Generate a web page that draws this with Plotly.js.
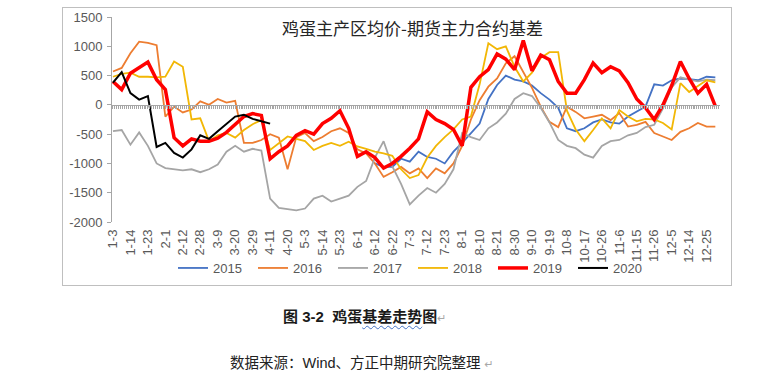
<!DOCTYPE html>
<html>
<head>
<meta charset="utf-8">
<script src="https://cdn.plot.ly/plotly-3.0.1.min.js"></script>
<style>
  html, body { margin: 0; padding: 0; background: #ffffff; }
  #wrap { position: relative; width: 781px; height: 381px; overflow: hidden; }
  #chart { position: absolute; left: 0; top: 0; width: 781px; height: 381px; }
  #frame { position: absolute; left: 62px; top: 7px; width: 668px; height: 277px; border: 1px solid #BFBFBF; pointer-events: none; }
  .cap1 { position: absolute; left: 283px; top: 307px; font: bold 15px "Liberation Sans", "Noto Sans CJK SC", sans-serif; color: #1a1a1a; line-height: 20px; white-space: nowrap; }
  .cap2 { position: absolute; left: 230px; top: 353px; font: 14.5px "Liberation Sans", "Noto Sans CJK SC", sans-serif; color: #222; line-height: 20px; white-space: nowrap; }
  .wavy { text-decoration: underline wavy #4472C4; text-decoration-thickness: 1px; text-underline-offset: 3px; }
  .ret { font: 11px "DejaVu Sans", sans-serif; color: #A8A8A8; font-weight: normal; }
</style>
</head>
<body>
<div id="wrap">
  <div id="chart"></div>
  <div id="frame"></div>
  <div class="cap1">图 3-2&nbsp;&nbsp;鸡蛋<span class="wavy">基差走势</span>图<span class="ret">↵</span></div>
  <div class="cap2">数据来源：Wind、方正中期研究院整理 <span class="ret">↵</span></div>
</div>
<script>
// category tick labels (every 9th trading day)
const tickLabels = ['1-3','1-14','1-23','2-1','2-12','2-28','3-9','3-20','3-29','4-11','4-20','5-3','5-14','5-23','6-1','6-12','6-22','7-3','7-12','7-23','8-1','8-10','8-21','8-30','9-10','9-19','10-8','10-17','10-26','11-6','11-15','11-26','12-5','12-14','12-25'];
const yTickVals = [-2000,-1500,-1000,-500,0,500,1000,1500];
const yTickText = ['-2000','-1500','-1000','-500','0','500','1000','1500'];

// series sampled every 4.5 trading days
const s2015 = [null,null,null,null,null,null,null,null,null,null,
  null,null,null,null,null,null,null,null,null,null,
  null,null,null,null,null,null,null,null,null,null,
  -1000,-1060,-1060,-920,-970,-800,-890,-920,-1000,-800,
  -650,-480,-320,100,340,500,430,400,330,200,
  90,-50,-400,-450,-400,-300,-250,-300,-320,-200,
  -110,-30,350,330,420,450,440,420,480,470];
const s2016 = [570,630,880,1080,1060,1020,-200,-30,-130,-80,
  60,0,100,40,70,-650,-650,-600,-500,-560,
  -1100,-550,-480,-620,-550,-450,-400,-480,-760,-830,
  -1000,-1230,-1150,-1060,-1170,-1085,-1250,-1085,-1170,-1000,
  -700,-250,80,310,450,710,830,570,290,-30,
  -290,-380,-30,-120,-230,-200,-170,-260,-140,-370,
  -340,-290,-480,-540,-600,-460,-400,-310,-370,-370];
const s2017 = [-450,-430,-680,-470,-700,-1000,-1080,-1100,-1120,-1100,
  -1150,-1100,-1020,-800,-700,-800,-750,-780,-1600,-1760,
  -1780,-1800,-1770,-1600,-1550,-1650,-1600,-1550,-1400,-1300,
  -900,-620,-1050,-1350,-1700,-1550,-1420,-1500,-1350,-1100,
  -480,-550,-600,-400,-300,-150,100,200,150,-50,
  -300,-600,-700,-740,-850,-900,-700,-620,-600,-520,
  -480,-380,-340,-60,300,470,430,400,430,420];
const s2018 = [480,530,550,480,480,470,480,740,650,-250,
  -230,-620,-520,-480,-560,-430,-330,-260,-770,-650,
  -540,-580,-620,-770,-700,-650,-700,-630,-710,-750,
  -800,-830,-870,-1100,-1250,-1200,-900,-700,-550,-420,
  -250,-200,350,1050,950,1000,650,400,550,800,
  900,900,-100,-420,-620,-430,-230,-400,-90,-200,
  -280,-240,-250,-310,-420,370,220,320,420,385];
const s2019 = [400,260,540,630,730,430,260,-560,-700,-580,
  -620,-620,-570,-470,-330,-200,-150,-180,-920,-800,
  -700,-520,-440,-500,-320,-230,-100,-400,-880,-800,
  -900,-1080,-1000,-880,-740,-580,-120,-250,-320,-420,
  -700,300,480,600,870,780,600,1100,580,850,
  770,400,200,200,430,714,550,650,580,380,
  100,-50,-250,0,330,740,450,200,350,-20];
const s2020 = [380,560,200,90,150,-720,-650,-820,-900,-760,
  -520,-580,-450,-320,-200,-170,-240,-280,-320];

const step = 4.5;
const xs = arr => arr.map((_, i) => i * step);

const series = [
  {name:'2015', y:s2015, color:'#4472C4', w:1.8},
  {name:'2016', y:s2016, color:'#ED7D31', w:1.8},
  {name:'2017', y:s2017, color:'#A5A5A5', w:1.8},
  {name:'2018', y:s2018, color:'#F2B705', w:1.8},
  {name:'2019', y:s2019, color:'#FF0000', w:3.5},
  {name:'2020', y:s2020, color:'#000000', w:2}
];

const traces = series.map(s => ({
  type:'scatter', mode:'lines', name:s.name,
  x: xs(s.y), y: s.y, xaxis:'x', yaxis:'y',
  line: {color:s.color, width:s.w},
  connectgaps:false, hoverinfo:'skip'
}));
// empty helper trace so the category axis crossing at zero (x2/y2) is created
traces.unshift({type:'scatter', mode:'lines', x:[], y:[], xaxis:'x2', yaxis:'y2', showlegend:false, hoverinfo:'skip'});

const xRange = [-0.5, 312.9];
const yRange = [-2000, 1500];
const zeroFrac = (0 - yRange[0]) / (yRange[1] - yRange[0]);
const tickFont = {family:'Liberation Sans, Arial, sans-serif', size:13, color:'#595959'};

const layout = {
  width:781, height:381,
  margin:{l:112, r:61, t:17, b:159, pad:0},
  paper_bgcolor:'rgba(0,0,0,0)', plot_bgcolor:'rgba(0,0,0,0)',
  showlegend:true,
  title:{text:'鸡蛋主产区均价-期货主力合约基差', font:{family:'Noto Sans CJK SC, sans-serif', size:17, color:'#262626'},
    xref:'container', yref:'container', x:412.5/781, y:1-29/381, xanchor:'center', yanchor:'middle'},
  xaxis:{range:xRange, tickvals:tickLabels.map((_, i) => i*9), ticktext:tickLabels, tickangle:-90,
    showline:false, ticks:'', showgrid:false, zeroline:false, tickfont:tickFont, ticklabelstandoff:4},
  xaxis2:{domain:[0,1], anchor:'y2', range:xRange, side:'bottom',
    showline:true, linecolor:'#A6A6A6', linewidth:1, ticks:'outside', ticklen:3, tickwidth:1, tickcolor:'#A6A6A6',
    tickmode:'linear', tick0:0, dtick:1, showticklabels:false, showgrid:false, zeroline:false},
  yaxis2:{domain:[zeroFrac, 1], anchor:'x2', range:[0,1], visible:false, showgrid:false, zeroline:false},
  yaxis:{range:yRange, tickvals:yTickVals, ticktext:yTickText, showline:true, linecolor:'#A6A6A6', linewidth:1,
    ticks:'outside', ticklen:4, tickcolor:'#A6A6A6', showgrid:false, zeroline:false,
    tickfont:tickFont, ticklabelstandoff:2},
  legend:{orientation:'h', xref:'container', yref:'container', x:173/781, y:1-268/381, xanchor:'left', yanchor:'middle',
    font:{family:'Liberation Sans, Arial, sans-serif', size:13, color:'#595959'}, itemwidth:30, entrywidth:35, entrywidthmode:'pixels',
    bgcolor:'rgba(0,0,0,0)', borderwidth:0, traceorder:'normal'}
};

Plotly.newPlot('chart', traces, layout, {staticPlot:true, displayModeBar:false});
</script>
</body>
</html>
